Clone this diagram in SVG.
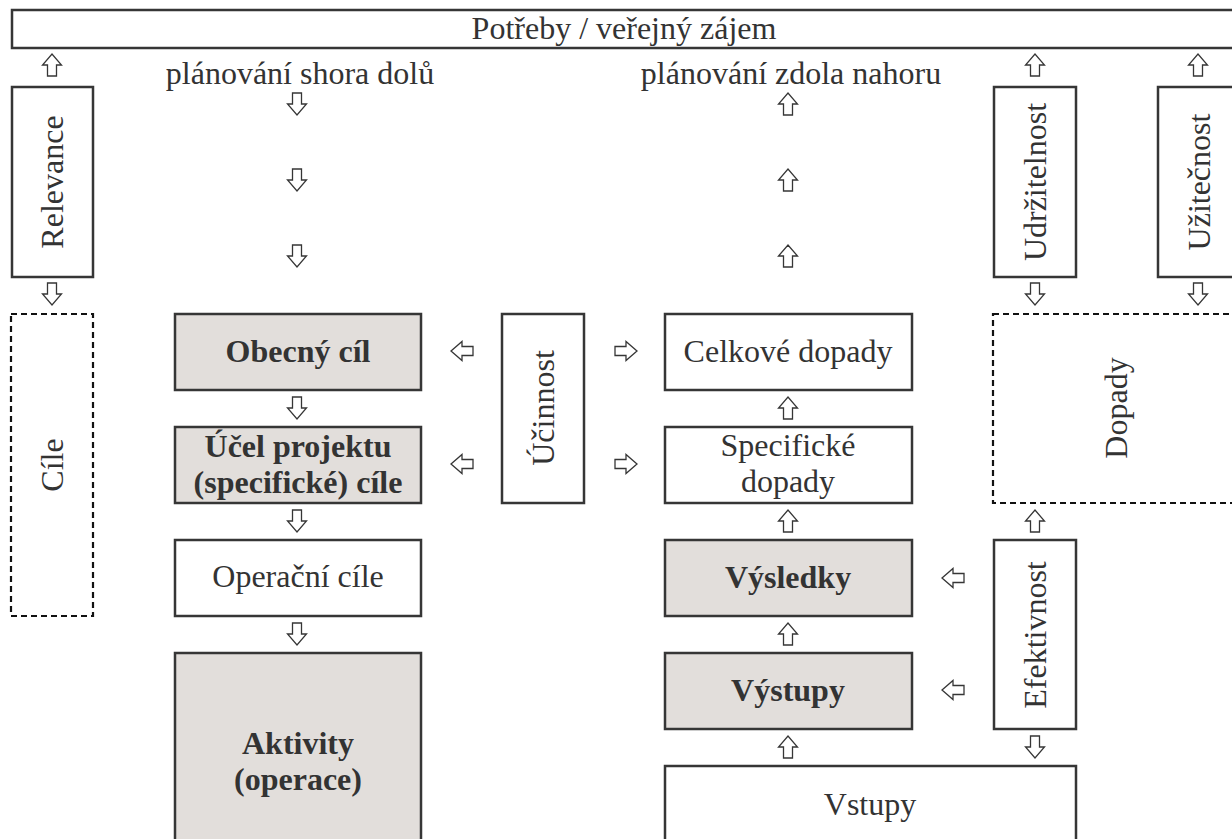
<svg xmlns="http://www.w3.org/2000/svg" xmlns:xlink="http://www.w3.org/1999/xlink" width="1232" height="839" viewBox="0 0 1232 839">
<style>
  .box { fill: #ffffff; stroke: #363636; stroke-width: 2.5; }
  .grey { fill: #e2dedb; stroke: #363636; stroke-width: 2.5; }
  .dash { fill: none; stroke: #111111; stroke-width: 2.2; stroke-dasharray: 6 4; }
  .t { font-family: "Liberation Serif", "Times New Roman", serif; font-size: 32px; fill: #333333; text-anchor: middle; }
  .b { font-weight: bold; }
  .arr { fill: #ffffff; stroke: #363636; stroke-width: 1.3; stroke-linejoin: miter; }
</style>
<defs>
  <path id="down" d="M-4.5,-11 L4.5,-11 L4.5,0 L9.5,0 L0,11 L-9.5,0 L-4.5,0 Z"/>
</defs>

<rect x="0" y="0" width="1232" height="839" fill="#ffffff"/>

<g id="potreby">
  <rect class="box" x="12" y="10" width="1240" height="38"/>
  <text class="t" x="624" y="39">Potřeby / veřejný zájem</text>
</g>

<g id="label-shora">
  <text class="t" x="300" y="84">plánování shora dolů</text>
</g>
<g id="label-zdola">
  <text class="t" x="791" y="84">plánování zdola nahoru</text>
</g>

<g id="relevance">
  <rect class="box" x="12" y="87" width="81" height="190"/>
  <text class="t" transform="translate(63,182) rotate(-90)">Relevance</text>
</g>
<g id="udrzitelnost">
  <rect class="box" x="994" y="87" width="82" height="190"/>
  <text class="t" transform="translate(1046,182) rotate(-90)">Udržitelnost</text>
</g>
<g id="uzitecnost">
  <rect class="box" x="1158" y="87" width="82" height="190"/>
  <text class="t" transform="translate(1210,182) rotate(-90)">Užitečnost</text>
</g>

<g id="cile">
  <rect class="dash" x="11" y="314" width="82" height="302"/>
  <text class="t" transform="translate(63,465) rotate(-90)">Cíle</text>
</g>

<g id="obecny-cil">
  <rect class="grey" x="175" y="314" width="246" height="76"/>
  <text class="t b" x="298" y="362">Obecný cíl</text>
</g>
<g id="ucel-projektu">
  <rect class="grey" x="175" y="427" width="246" height="76"/>
  <text class="t b" x="298" y="457">Účel projektu</text>
  <text class="t b" x="298" y="493">(specifické) cíle</text>
</g>
<g id="operacni-cile">
  <rect class="box" x="175" y="540" width="246" height="76"/>
  <text class="t" x="298" y="587">Operační cíle</text>
</g>
<g id="aktivity">
  <rect class="grey" x="175" y="653" width="246" height="200"/>
  <text class="t b" x="298" y="754">Aktivity</text>
  <text class="t b" x="298" y="790">(operace)</text>
</g>

<g id="ucinnost">
  <rect class="box" x="502" y="314" width="82" height="189"/>
  <text class="t" transform="translate(554,408) rotate(-90)">Účinnost</text>
</g>

<g id="celkove-dopady">
  <rect class="box" x="665" y="314" width="247" height="76"/>
  <text class="t" x="788" y="362">Celkové dopady</text>
</g>
<g id="specificke-dopady">
  <rect class="box" x="665" y="427" width="247" height="76"/>
  <text class="t" x="788" y="456">Specifické</text>
  <text class="t" x="788" y="492">dopady</text>
</g>
<g id="vysledky">
  <rect class="grey" x="665" y="540" width="247" height="76"/>
  <text class="t b" x="788" y="588">Výsledky</text>
</g>
<g id="vystupy">
  <rect class="grey" x="665" y="653" width="247" height="76"/>
  <text class="t b" x="788" y="701">Výstupy</text>
</g>
<g id="vstupy">
  <rect class="box" x="665" y="766" width="411" height="90"/>
  <text class="t" x="870" y="815">Vstupy</text>
</g>

<g id="dopady">
  <rect class="dash" x="993" y="314" width="247" height="189"/>
  <text class="t" transform="translate(1127,408) rotate(-90)">Dopady</text>
</g>
<g id="efektivnost">
  <rect class="box" x="994" y="540" width="82" height="189"/>
  <text class="t" transform="translate(1046,635) rotate(-90)">Efektivnost</text>
</g>

<g id="connectors">
  <!-- up arrows -->
  <use xlink:href="#down" class="arr" transform="translate(52,65) rotate(180)"/>
  <use xlink:href="#down" class="arr" transform="translate(1035,65) rotate(180)"/>
  <use xlink:href="#down" class="arr" transform="translate(1198,65) rotate(180)"/>
  <use xlink:href="#down" class="arr" transform="translate(788,104) rotate(180)"/>
  <use xlink:href="#down" class="arr" transform="translate(788,180) rotate(180)"/>
  <use xlink:href="#down" class="arr" transform="translate(788,256) rotate(180)"/>
  <use xlink:href="#down" class="arr" transform="translate(788,408) rotate(180)"/>
  <use xlink:href="#down" class="arr" transform="translate(788,521) rotate(180)"/>
  <use xlink:href="#down" class="arr" transform="translate(788,634) rotate(180)"/>
  <use xlink:href="#down" class="arr" transform="translate(788,747) rotate(180)"/>
  <use xlink:href="#down" class="arr" transform="translate(1035,521) rotate(180)"/>
  <!-- down arrows -->
  <use xlink:href="#down" class="arr" transform="translate(297,104)"/>
  <use xlink:href="#down" class="arr" transform="translate(297,180)"/>
  <use xlink:href="#down" class="arr" transform="translate(297,256)"/>
  <use xlink:href="#down" class="arr" transform="translate(52,294)"/>
  <use xlink:href="#down" class="arr" transform="translate(1035,294)"/>
  <use xlink:href="#down" class="arr" transform="translate(1198,294)"/>
  <use xlink:href="#down" class="arr" transform="translate(297,408)"/>
  <use xlink:href="#down" class="arr" transform="translate(297,521)"/>
  <use xlink:href="#down" class="arr" transform="translate(297,634)"/>
  <use xlink:href="#down" class="arr" transform="translate(1035,747)"/>
  <!-- left arrows -->
  <use xlink:href="#down" class="arr" transform="translate(462,351) rotate(90)"/>
  <use xlink:href="#down" class="arr" transform="translate(462,464) rotate(90)"/>
  <use xlink:href="#down" class="arr" transform="translate(953,578) rotate(90)"/>
  <use xlink:href="#down" class="arr" transform="translate(953,690) rotate(90)"/>
  <!-- right arrows -->
  <use xlink:href="#down" class="arr" transform="translate(626,351) rotate(-90)"/>
  <use xlink:href="#down" class="arr" transform="translate(626,464) rotate(-90)"/>
</g>
</svg>
